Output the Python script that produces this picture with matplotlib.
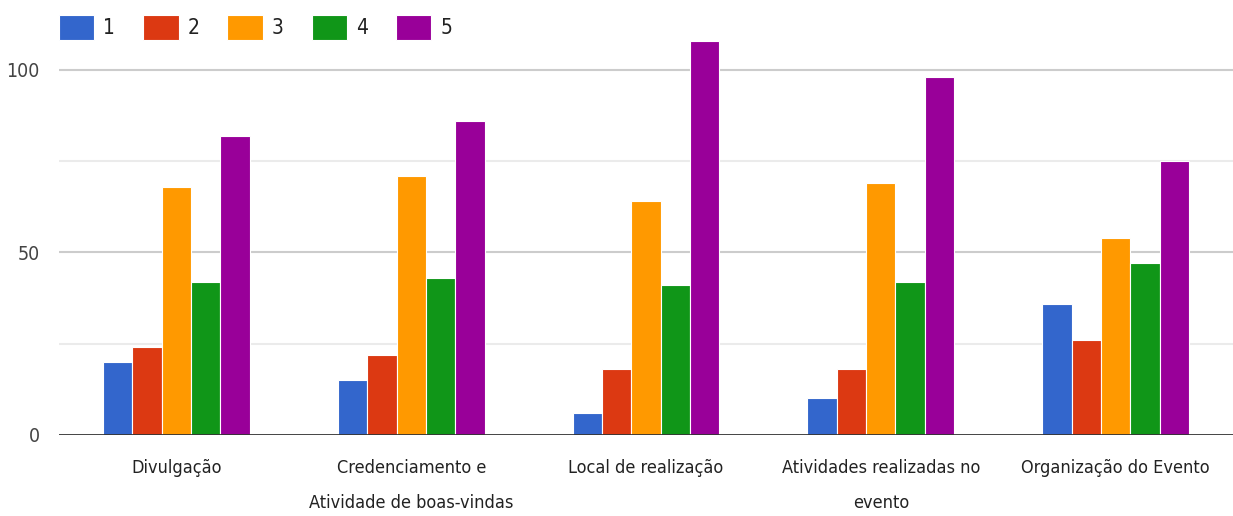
import numpy as np
import matplotlib.pyplot as plt

categories = ['Divulgação', 'Credenciamento e\nAtividade de boas-vindas',
              'Local de realização', 'Atividades realizadas no\nevento',
              'Organização do Evento']
series_names = ['1', '2', '3', '4', '5']
score_1 = [20, 15, 6, 10, 36]
score_2 = [24, 22, 18, 18, 26]
score_3 = [68, 71, 64, 69, 54]
score_4 = [42, 43, 41, 42, 47]
score_5 = [82, 86, 108, 98, 75]
colors = ['#3366CC', '#DC3912', '#FF9900', '#109618', '#990099']


def main():
    plt.rcParams['font.family'] = ['DejaVu Sans']
    plt.rcParams['font.stretch'] = 'condensed'
    fig = plt.figure(figsize=(12.33, 5.16), dpi=100)
    ax = fig.add_axes([59 / 1233, 0.157, 1 - 59 / 1233, 0.7853])

    series = [score_1, score_2, score_3, score_4, score_5]
    x = np.arange(len(categories))
    width = 0.125
    for i, (name, vals) in enumerate(zip(series_names, series)):
        ax.bar(x + (i - 2) * width, vals, width, color=colors[i],
               edgecolor='white', linewidth=0.8, label=name, zorder=3)

    ax.set_xlim(-0.5, 4.5)
    ax.set_ylim(0, 111)
    ax.set_yticks([0, 50, 100])
    for y in [25, 75]:
        ax.axhline(y, color='#ebebeb', linewidth=1.5, zorder=1)
    for y in [50, 100]:
        ax.axhline(y, color='#cccccc', linewidth=1.5, zorder=1)
    ax.axhline(0, color='#333333', linewidth=2, zorder=4)

    ax.set_xticks(x)
    ax.set_xticklabels(categories, fontsize=13, color='#222222')
    for lab in ax.get_xticklabels():
        lab.set_linespacing(2.25)
    ax.tick_params(axis='x', length=0, pad=17)
    ax.tick_params(axis='y', length=0, pad=14, labelsize=14, labelcolor='#444444')
    for s in ax.spines.values():
        s.set_visible(False)

    fig.legend(loc='upper left', bbox_to_anchor=(59 / 1233, 1 - 15 / 516),
               ncol=5, frameon=False, fontsize=15, handlelength=1.7,
               handleheight=1.45, handletextpad=0.42, columnspacing=1.35,
               borderpad=0, borderaxespad=0, labelcolor='#222222')

    fig.savefig('out.png', dpi=100)


if __name__ == '__main__':
    main()
